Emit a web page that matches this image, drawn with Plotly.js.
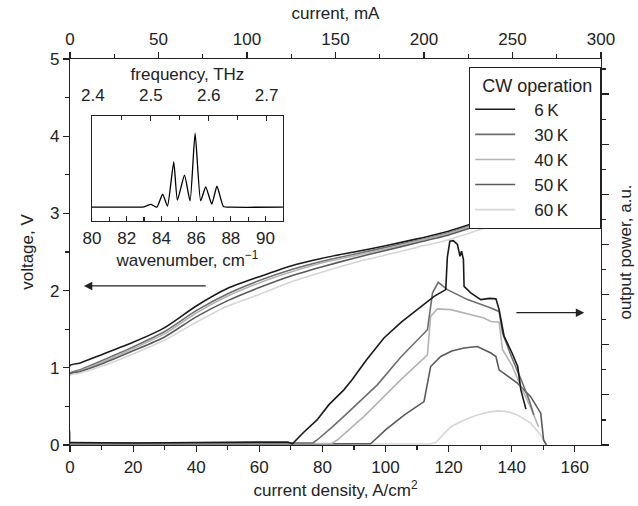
<!DOCTYPE html>
<html>
<head>
<meta charset="utf-8">
<script src="https://cdn.plot.ly/plotly-3.0.1.min.js"></script>
<style>html,body{margin:0;padding:0;background:#fff;}#chart{width:638px;height:506px;}</style>
</head>
<body>
<div id="chart"></div>
<script>
// ---------- data ----------
var tempLabels = ['6\u2009K', '30\u2009K', '40\u2009K', '50\u2009K', '60\u2009K'];
var lineColors = ['#1a1a1a', '#6e6e6e', '#b4b4b4', '#5a5a5a', '#d6d6d6'];

// voltage-current density curves (left axis)
var jIV = [0, 0, 3, 10, 20, 30, 40, 50, 60, 70, 80, 90, 100, 110, 120, 130, 150];
var v6K  = [0, 1.03, 1.06, 1.17, 1.33, 1.52, 1.80, 2.03, 2.18, 2.32, 2.42, 2.50, 2.58, 2.67, 2.77, 2.90, 3.15];
var v30K = [0, 0.93, 0.97, 1.09, 1.27, 1.47, 1.74, 1.96, 2.13, 2.27, 2.38, 2.47, 2.56, 2.65, 2.75, 2.88, 3.13];
var v40K = [0, 0.92, 0.96, 1.07, 1.25, 1.44, 1.71, 1.93, 2.10, 2.24, 2.36, 2.45, 2.54, 2.64, 2.74, 2.87, 3.12];
var v50K = [0, 0.92, 0.95, 1.05, 1.22, 1.40, 1.66, 1.87, 2.04, 2.19, 2.31, 2.42, 2.52, 2.62, 2.72, 2.85, 3.10];
var v60K = [0, 0.90, 0.93, 1.02, 1.18, 1.36, 1.59, 1.80, 1.95, 2.11, 2.24, 2.36, 2.46, 2.56, 2.66, 2.79, 3.05];

// output power curves (right axis, a.u.)
var jP6K = [0, 20, 40, 60, 69, 70.5, 74, 78.3, 82, 86.8, 89.4, 94, 99.5, 105, 110.1, 115.4, 119.1, 119.6, 120.4, 121.5, 122.8, 123.6, 124.1, 124.7, 124.9, 127, 130.2, 133, 135, 136, 137.6, 140, 141.9, 142.9, 144.5];
var p6K  = [0.1, 0.08, 0.1, 0.12, 0.12, 0.05, 0.5, 1.0, 1.6, 2.2, 2.6, 3.4, 4.27, 4.9, 5.4, 5.93, 6.2, 7.5, 8.13, 8.15, 8.0, 7.53, 7.73, 7.4, 6.33, 6.07, 5.8, 5.85, 5.83, 5.4, 4.33, 3.7, 3.13, 2.2, 1.43];
var jP30K = [0, 40, 77, 78.3, 83, 87.9, 94, 97.4, 104.8, 113.3, 114.9, 116.7, 119.6, 126, 133.4, 136, 137.1, 140, 143, 145.5, 147];
var p30K  = [0.08, 0.08, 0.08, 0.2, 0.7, 1.27, 2.0, 2.4, 3.5, 4.6, 6.07, 6.49, 6.2, 5.8, 5.47, 5.33, 4.47, 3.5, 2.6, 1.8, 1.2];
var jP40K = [0, 40, 83, 84.7, 93.1, 104.8, 113.3, 114.3, 116.4, 120.7, 131.2, 133.4, 136, 137.1, 140, 143, 146, 148.5];
var p40K  = [0.06, 0.06, 0.06, 0.2, 1.13, 2.6, 3.6, 5.13, 5.43, 5.4, 5.07, 4.93, 4.9, 3.8, 3.2, 2.3, 1.5, 0.73];
var jP50K = [0, 40, 93, 95.3, 100, 106, 112.2, 114.3, 117.5, 121, 124.9, 129.1, 133.4, 135, 136, 141.8, 146, 149.2, 150.1, 151];
var p50K  = [0.04, 0.04, 0.04, 0.05, 0.6, 1.2, 1.73, 3.13, 3.53, 3.75, 3.87, 3.93, 3.67, 3.53, 3.0, 2.47, 1.93, 1.27, 0.2, 0];
var jP60K = [0, 40, 114, 115.9, 120.7, 125, 129.1, 133, 136, 139, 141.8, 146, 149.2, 151];
var p60K  = [0.04, 0.04, 0.04, 0.1, 0.73, 1.0, 1.2, 1.32, 1.36, 1.32, 1.2, 0.87, 0.4, 0];

// inset spectrum
var wavenumber = [80, 82, 83.0, 83.39, 83.74, 84.07, 84.35, 84.71, 84.92, 85.33, 85.65, 85.94, 86.26, 86.55, 86.90, 87.2, 87.57, 88.0, 91];
var spectrum   = [0.133, 0.133, 0.136, 0.159, 0.133, 0.257, 0.143, 0.565, 0.2, 0.437, 0.193, 0.838, 0.193, 0.327, 0.162, 0.333, 0.14, 0.133, 0.133];

// ---------- build ----------
var ivY = [v6K, v30K, v40K, v50K, v60K];
var pX = [jP6K, jP30K, jP40K, jP50K, jP60K];
var pY = [p6K, p30K, p40K, p50K, p60K];
var FONT = 'Liberation Sans, Arial, sans-serif';
var FS = 17;

var traces = [];
for (var i = 0; i < 5; i++) {
  traces.push({x: jIV, y: ivY[i], type: 'scatter', mode: 'lines', xaxis: 'x', yaxis: 'y',
    name: '\u00a0\u00a0\u00a0' + tempLabels[i], legendgroup: 'g' + i, showlegend: true,
    line: {color: lineColors[i], width: 1.6, shape: 'spline', smoothing: 0.6}});
}
for (var i = 4; i >= 0; i--) {
  traces.push({x: pX[i], y: pY[i], type: 'scatter', mode: 'lines', xaxis: 'x', yaxis: 'y2',
    name: tempLabels[i], legendgroup: 'g' + i, showlegend: false,
    line: {color: lineColors[i], width: 1.6}});
}
traces.push({x: wavenumber, y: spectrum, type: 'scatter', mode: 'lines', xaxis: 'x3', yaxis: 'y3',
  showlegend: false, line: {color: '#000', width: 1.3, shape: 'spline', smoothing: 0.5}});
// dummy trace to activate the frequency axis
traces.push({x: [2.4], y: [null], type: 'scatter', mode: 'lines', xaxis: 'x4', yaxis: 'y3', showlegend: false, hoverinfo: 'skip'});
// dummy for top current axis
traces.push({x: [0], y: [null], type: 'scatter', mode: 'lines', xaxis: 'x2', yaxis: 'y', showlegend: false, hoverinfo: 'skip'});

var axBase = {showgrid: false, zeroline: false, showline: true, linecolor: '#222', linewidth: 1.2,
  tickcolor: '#222', tickwidth: 1.2, tickfont: {family: FONT, size: FS, color: '#222'}};
function ax(o) { var r = {}; for (var k in axBase) r[k] = axBase[k]; for (var k in o) r[k] = o[k]; return r; }

var layout = {
  width: 638, height: 506,
  margin: {l: 70, r: 37, t: 59, b: 61},
  paper_bgcolor: '#fff', plot_bgcolor: 'rgba(0,0,0,0)',
  font: {family: FONT, size: FS, color: '#222'},
  xaxis: ax({domain: [0, 1], range: [0, 168.3], dtick: 20, ticks: 'outside', ticklen: 6,
    minor: {dtick: 10, ticks: 'outside', ticklen: 4, tickcolor: '#222'},
    title: {text: 'current density, A/cm<sup>2</sup>', font: {family: FONT, size: FS}, standoff: 8}}),
  xaxis2: ax({overlaying: 'x', side: 'top', anchor: 'y', range: [0, 300], dtick: 50, ticks: 'outside', ticklen: 6,
    minor: {dtick: 25, ticks: 'outside', ticklen: 4, tickcolor: '#222'},
    title: {text: 'current, mA', font: {family: FONT, size: FS}, standoff: 6}}),
  yaxis: ax({domain: [0, 1], range: [0, 5], dtick: 1, ticks: 'outside', ticklen: 6,
    minor: {dtick: 0.5, ticks: 'outside', ticklen: 4, tickcolor: '#222'},
    title: {text: 'voltage, V', font: {family: FONT, size: FS}, standoff: 12}}),
  yaxis2: ax({overlaying: 'y', side: 'right', anchor: 'x', range: [0, 15.4], dtick: 2, ticks: 'outside', ticklen: 7,
    showticklabels: false, minor: {dtick: 1, ticks: 'outside', ticklen: 4, tickcolor: '#222'},
    title: {text: 'output power, a.u.', font: {family: FONT, size: FS}, standoff: 10}}),
  xaxis3: ax({domain: [0.0414, 0.401], anchor: 'y3', range: [80, 91], dtick: 2, ticks: 'inside', ticklen: 5,
    mirror: true, ticklabelstandoff: 1, minor: {dtick: 1, ticks: 'inside', ticklen: 4, tickcolor: '#222'},
    title: {text: 'wavenumber, cm<sup>\u22121</sup>', font: {family: FONT, size: FS}, standoff: 0}}),
  xaxis4: ax({overlaying: 'x3', side: 'top', anchor: 'y3', range: [80 / 33.356, 91 / 33.356], dtick: 0.1,
    tickformat: '.1f', ticks: 'inside', ticklen: 5, showline: false, ticklabelstandoff: 11,
    minor: {dtick: 0.05, ticks: 'inside', ticklen: 4, tickcolor: '#222'},
    title: {text: 'frequency, THz', font: {family: FONT, size: FS}, standoff: 0}}),
  yaxis3: ax({domain: [0.580, 0.852], anchor: 'x3', range: [0, 1], ticks: '', showticklabels: false, mirror: true}),
  showlegend: true,
  legend: {x: 1, xanchor: 'right', y: 0.979, yanchor: 'top', bgcolor: '#fff', bordercolor: '#222', borderwidth: 1.2,
    font: {family: FONT, size: FS, color: '#222'},
    title: {text: '\u00a0\u00a0CW operation\u00a0', font: {family: FONT, size: 18}},
    entrywidth: 128, itemwidth: 40,
    traceorder: 'grouped', tracegroupgap: 0},
  annotations: [
    {xref: 'x', yref: 'y', axref: 'x', ayref: 'y', x: 4.4, y: 2.06, ax: 43.5, ay: 2.06, text: '',
      showarrow: true, arrowhead: 2, arrowsize: 1.3, arrowwidth: 1.3, arrowcolor: '#222'},
    {xref: 'x', yref: 'y2', axref: 'x', ayref: 'y2', x: 163, y: 5.28, ax: 141, ay: 5.28, text: '',
      showarrow: true, arrowhead: 2, arrowsize: 1.3, arrowwidth: 1.3, arrowcolor: '#222'}
  ]
};

Plotly.newPlot('chart', traces, layout, {displayModeBar: false, staticPlot: true});
</script>
</body>
</html>
